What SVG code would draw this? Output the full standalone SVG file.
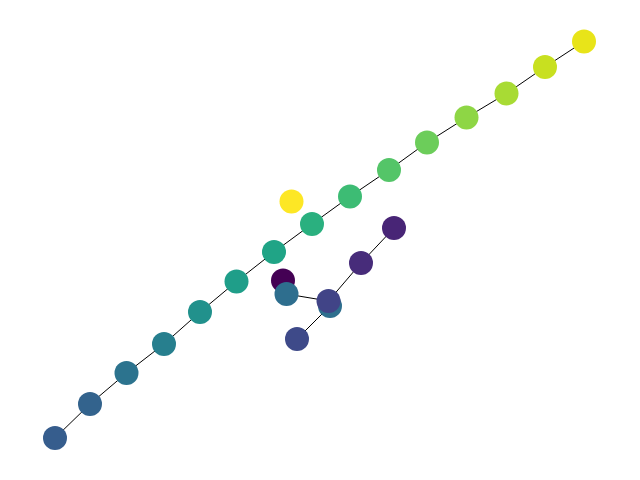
<svg xmlns="http://www.w3.org/2000/svg" width="640" height="480" viewBox="0 0 640 480">
<style>
line{stroke:#000;stroke-width:1}
circle{r:12}
</style>
<rect width="640" height="480" fill="#fff"/>
<g id="edges">
<line x1="55" y1="438" x2="90" y2="404"/>
<line x1="90" y1="404" x2="126.5" y2="373"/>
<line x1="126.5" y1="373" x2="164" y2="344"/>
<line x1="164" y1="344" x2="200" y2="312"/>
<line x1="200" y1="312" x2="236.5" y2="281.5"/>
<line x1="236.5" y1="281.5" x2="274" y2="252"/>
<line x1="274" y1="252" x2="312" y2="224"/>
<line x1="312" y1="224" x2="350" y2="196.5"/>
<line x1="350" y1="196.5" x2="389" y2="170"/>
<line x1="389" y1="170" x2="427" y2="142.5"/>
<line x1="427" y1="142.5" x2="466.5" y2="117.5"/>
<line x1="466.5" y1="117.5" x2="506.5" y2="93.5"/>
<line x1="506.5" y1="93.5" x2="545" y2="67"/>
<line x1="545" y1="67" x2="584" y2="41.5"/>
<line x1="286.5" y1="294" x2="328.5" y2="301"/>
<line x1="297" y1="339" x2="330" y2="306"/>
<line x1="328.5" y1="301" x2="361" y2="263"/>
<line x1="361" y1="263" x2="394" y2="228"/>
</g>
<g id="n0"><circle cx="283" cy="280.5" fill="#440154"/></g>
<g id="n1"><circle cx="394" cy="228" fill="#482576"/></g>
<g id="n2"><circle cx="361" cy="263" fill="#472c7a"/></g>
<g id="n3"><circle cx="330" cy="306" fill="#2e6f8e"/></g>
<g id="n4"><circle cx="328.5" cy="301" fill="#414487"/></g>
<g id="n5"><circle cx="297" cy="339" fill="#3e4a89"/></g>
<g id="n6"><circle cx="286.5" cy="294" fill="#2e6e8e"/></g>
<g id="n7"><circle cx="55" cy="438" fill="#365d8d"/></g>
<g id="n8"><circle cx="90" cy="404" fill="#33638d"/></g>
<g id="n9"><circle cx="126.5" cy="373" fill="#2c738e"/></g>
<g id="n10"><circle cx="164" cy="344" fill="#277f8e"/></g>
<g id="n11"><circle cx="200" cy="312" fill="#21918c"/></g>
<g id="n12"><circle cx="236.5" cy="281.5" fill="#1f9e89"/></g>
<g id="n13"><circle cx="274" cy="252" fill="#20a486"/></g>
<g id="n14"><circle cx="312" cy="224" fill="#2ab07f"/></g>
<g id="n15"><circle cx="350" cy="196.5" fill="#3dbc74"/></g>
<g id="n16"><circle cx="389" cy="170" fill="#54c568"/></g>
<g id="n17"><circle cx="427" cy="142.5" fill="#6ccd5a"/></g>
<g id="n18"><circle cx="466.5" cy="117.5" fill="#8ed645"/></g>
<g id="n19"><circle cx="506.5" cy="93.5" fill="#a8db34"/></g>
<g id="n20"><circle cx="545" cy="67" fill="#c8e020"/></g>
<g id="n21"><circle cx="584" cy="41.5" fill="#e8e419"/></g>
<g id="n22"><circle cx="291.5" cy="201.5" fill="#fde725"/></g>
</svg>
